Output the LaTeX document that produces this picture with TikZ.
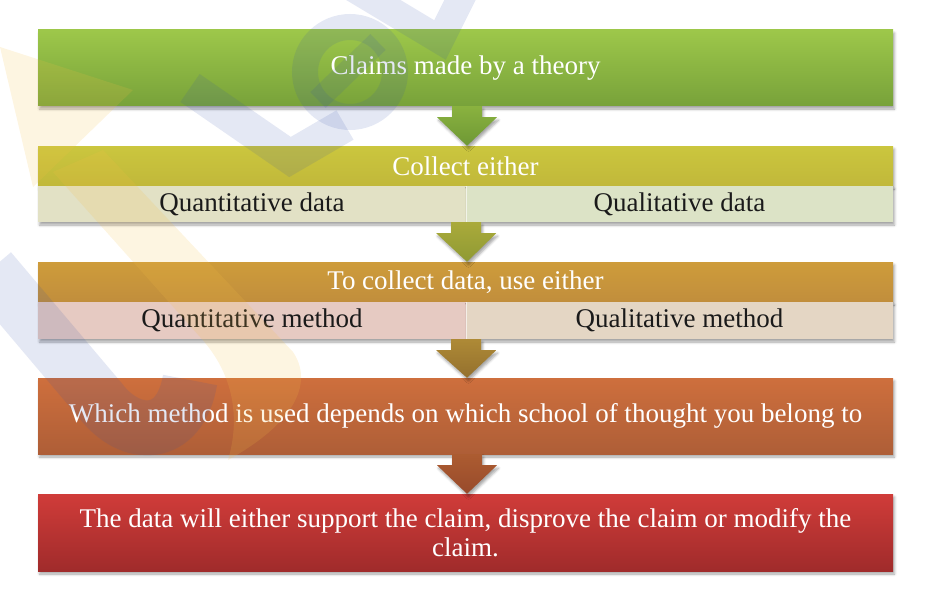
\documentclass[tikz,border=0pt]{standalone}
\usepackage{fontspec}
\setmainfont{Liberation Serif}
\usetikzlibrary{calc,shadows.blur}

% box colours
\definecolor{greenT}{HTML}{9DC74A}
\definecolor{greenB}{HTML}{78A23A}
\definecolor{oliveT}{HTML}{CBC63E}
\definecolor{oliveB}{HTML}{C1B83A}
\definecolor{ochreT}{HTML}{CE9C3B}
\definecolor{ochreB}{HTML}{C18E3C}
\definecolor{orangeT}{HTML}{CE6F3D}
\definecolor{orangeB}{HTML}{AE5E37}
\definecolor{redT}{HTML}{D03C39}
\definecolor{redB}{HTML}{A02B2B}
\definecolor{dataL}{HTML}{E2E1C5}
\definecolor{dataR}{HTML}{DCE3C6}
\definecolor{methL}{HTML}{E6CAC2}
\definecolor{methR}{HTML}{E4D6C4}
% arrow colours
\definecolor{arrA1}{HTML}{8AB23F}
\definecolor{arrA2}{HTML}{6E9835}
\definecolor{arrB1}{HTML}{AAAA3A}
\definecolor{arrB2}{HTML}{8F9A34}
\definecolor{arrC1}{HTML}{AE8A36}
\definecolor{arrC2}{HTML}{94702E}
\definecolor{arrD1}{HTML}{AC5C31}
\definecolor{arrD2}{HTML}{984A2B}
% logo tints
\definecolor{wmblue}{RGB}{50,80,170}
\definecolor{wmyellow}{RGB}{245,190,70}
\definecolor{subtext}{HTML}{1A1A1A}

\begin{document}
\begin{tikzpicture}[x=1pt,y=-1pt,
  softshadow/.style={blur shadow={shadow xshift=1.5pt,shadow yshift=-3pt,
      shadow blur radius=2.5pt,shadow opacity=35}},
  bigbox/.style={rectangle,inner sep=0pt,minimum width=855pt,text=white,
      font=\fontsize{27}{29}\selectfont,align=center,softshadow},
  headbox/.style={bigbox,minimum height=40pt},
  subbox/.style={rectangle,inner sep=0pt,minimum height=37pt,text=subtext,
      font=\fontsize{27}{29}\selectfont,softshadow},
  sep/.style={draw=white,line width=1.2pt,opacity=0.6},
  flow/.style={softshadow},
  wmB/.style={draw=wmblue,draw opacity=0.13,line cap=butt,line join=miter},
  wmY/.style={fill=wmyellow,fill opacity=0.16}
]
\useasboundingbox (0,0) rectangle (925,599);

% claims box
\node[bigbox,minimum height=76pt,top color=greenT,bottom color=greenB]
  (claims) at (465.5,68) {Claims made by a theory};

% data choice
\node[headbox,top color=oliveT,bottom color=oliveB]
  (collect) at (465.5,166) {Collect either};
\node[subbox,minimum width=428pt,minimum height=36pt,fill=dataL]
  (qdata) at (252,204) {Quantitative data};
\node[subbox,minimum width=427pt,minimum height=36pt,fill=dataR]
  (ldata) at (679.5,204) {Qualitative data};
\draw[sep] (qdata.north east) -- (qdata.south east);

% method choice
\node[headbox,top color=ochreT,bottom color=ochreB]
  (method) at (465.5,282) {To collect data, use either};
\node[subbox,minimum width=428pt,fill=methL]
  (qmeth) at (252,320.5) {Quantitative method};
\node[subbox,minimum width=427pt,fill=methR]
  (lmeth) at (679.5,320.5) {Qualitative method};
\draw[sep] (qmeth.north east) -- (qmeth.south east);

% school of thought
\node[bigbox,minimum height=76pt,top color=orangeT,bottom color=orangeB]
  (school) at (465.5,416)
  {Which method is used depends on which school of thought you belong to};

% outcome
\node[bigbox,minimum height=77pt,top color=redT,bottom color=redB]
  (outcome) at (465.5,532.5)
  {The data will either support the claim, disprove the claim or modify the\\claim.};

% down arrows: shaft 30 wide, head 60 wide
\newcommand{\flowarrow}[4]{%
  \shade[flow,top color=#3,bottom color=#4]
    ($(#1)+(-15,0)$) -- ($(#1)+(15,0)$) -- ($(#1)+(15,11)$) -- ($(#1)+(30,11)$)
    -- (#2) -- ($(#1)+(-30,11)$) -- ($(#1)+(-15,11)$) -- cycle;}
\coordinate (a1) at ($(claims.south)+(1.5,0)$);
\coordinate (b1) at ($(collect.north)+(1.5,0)$);
\coordinate (a2) at ($(qdata.south east)+(0,0)$);
\coordinate (b2) at ($(method.north)+(1.5,0)$);
\coordinate (a3) at ($(qmeth.south east)+(0,0)$);
\coordinate (b3) at ($(school.north)+(1.5,0)$);
\coordinate (a4) at ($(school.south)+(1.5,0)$);
\coordinate (b4) at ($(outcome.north)+(1.5,0)$);
\flowarrow{a1}{b1}{arrA1}{arrA2}
\flowarrow{a2}{b2}{arrB1}{arrB2}
\flowarrow{a3}{b3}{arrC1}{arrC2}
\flowarrow{a4}{b4}{arrD1}{arrD2}

% faint logo shapes laid over the chart
\fill[wmY] (0,47) -- (133,90) -- (33,187) -- cycle;
\fill[wmY] (53,172) -- (200,337) .. controls (235,375) and (240,420) .. (228,460)
  .. controls (300,420) and (312,380) .. (293,352) -- (103,150) -- cycle;
\draw[wmB,line width=55pt] (-10,270) -- (100,400)
  .. controls (130,440) and (180,440) .. (190,380);
\draw[wmB,line width=34pt] (190,88) -- (290,157) -- (345,125);
\draw[wmB,line width=26pt] (350,72) circle[radius=45];
\draw[wmB,line width=22pt] (318,100) -- (378,42);
\draw[wmB,line width=28pt] (340,-20) -- (440,40) -- (470,-20);
\end{tikzpicture}
\end{document}
